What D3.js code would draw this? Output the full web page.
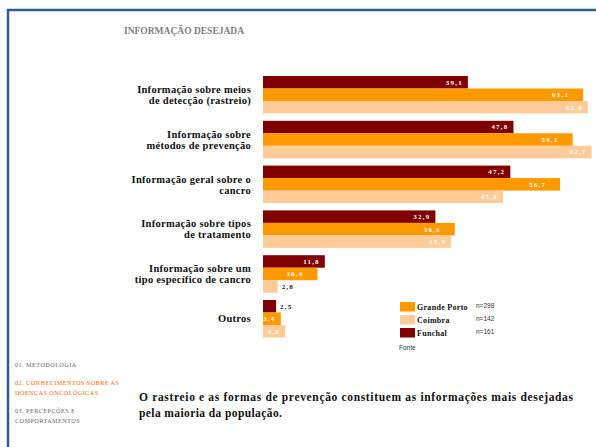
<!DOCTYPE html>
<html>
<head>
<meta charset="utf-8">
<script src="https://cdn.jsdelivr.net/npm/d3@7"></script>
<style>
  body { margin: 0; background: #fff; }
  svg { display: block; }
</style>
</head>
<body>
<div id="chart"></div>
<script>
// chart data
const categories = [
    ['Informação sobre meios', 'de detecção (rastreio)'],
    ['Informação sobre', 'métodos de prevenção'],
    ['Informação geral sobre o', 'cancro'],
    ['Informação sobre tipos', 'de tratamento'],
    ['Informação sobre um', 'tipo específico de cancro'],
    ['Outros']
];
const seriesNames = ['Funchal', 'Grande Porto', 'Coimbra'];
const funchal = [39.1, 47.8, 47.2, 32.9, 11.8, 2.5];
const grandePorto = [61.1, 59.1, 56.7, 36.6, 10.4, 3.4];
const coimbra = [62.0, 62.7, 45.8, 35.9, 2.8, 4.2];
const legendOrder = ['Grande Porto', 'Coimbra', 'Funchal'];
const nCounts = ['n=298', 'n=142', 'n=161'];
const navItems = [
    ['01. METODOLOGIA'],
    ['02. CONHECIMENTOS SOBRE AS', 'DOENÇAS ONCOLÓGICAS'],
    ['03. PERCEPÇÕES E', 'COMPORTAMENTOS']
];

const width = 596, height = 447;
const serif = '"Liberation Serif", "Times New Roman", serif';
const sans = '"Liberation Sans", Arial, sans-serif';

const colors = { 'Funchal': '#800000', 'Grande Porto': '#ff9900', 'Coimbra': '#ffcc99' };
const labelOffset = { 'Funchal': -5, 'Grande Porto': -14, 'Coimbra': -5 };
const values = { 'Funchal': funchal, 'Grande Porto': grandePorto, 'Coimbra': coimbra };

const svg = d3.select('#chart').append('svg')
    .attr('width', width)
    .attr('height', height);

// frame lines
svg.append('line')
    .attr('x1', 7).attr('x2', width).attr('y1', 10).attr('y2', 10)
    .attr('stroke', '#2d5d8f').attr('stroke-width', 2.5);
svg.append('line')
    .attr('x1', 8).attr('x2', 8).attr('y1', 9).attr('y2', height)
    .attr('stroke', '#2d5d8f').attr('stroke-width', 2.5);

// title
svg.append('text')
    .attr('x', 124).attr('y', 34)
    .attr('font-family', serif).attr('font-weight', 'bold')
    .attr('font-size', 9.5).attr('fill', '#808080')
    .text('INFORMAÇÃO DESEJADA');

// scales
const x = d3.scaleLinear().domain([0, 60]).range([263, 263 + 60 * 5.24]);
const y = d3.scaleBand()
    .domain(d3.range(categories.length))
    .range([76, 337.5])
    .paddingInner(0.163)
    .paddingOuter(0);
const ySub = d3.scaleBand()
    .domain(seriesNames)
    .range([0, y.bandwidth()]);

const groups = svg.selectAll('.group')
    .data(categories)
    .join('g')
    .attr('class', 'group')
    .attr('transform', (d, i) => `translate(0,${y(i)})`);

// bars
groups.each(function(cat, i) {
    const g = d3.select(this);
    seriesNames.forEach(s => {
        const v = values[s][i];
        g.append('rect')
            .attr('x', x(0))
            .attr('y', ySub(s))
            .attr('width', x(v) - x(0))
            .attr('height', ySub.bandwidth())
            .attr('fill', colors[s]);

        const label = d3.format('.1f')(v).replace('.', ',');
        const t = g.append('text')
            .attr('y', ySub(s) + ySub.bandwidth() / 2)
            .attr('dy', '0.35em')
            .attr('font-family', serif)
            .attr('font-weight', 'bold')
            .attr('font-size', 7)
            .attr('letter-spacing', 1.2)
            .text(label);
        if (v < 3) {
            // small bars: label outside
            t.attr('x', x(v) + 4).attr('fill', '#222');
        } else {
            let endX = x(v) + labelOffset[s];
            if (endX - 15 < x(0)) {
                t.attr('x', x(0)).attr('fill', '#fff');
            } else {
                t.attr('x', endX).attr('text-anchor', 'end').attr('fill', '#fff');
            }
        }
    });

    // category label
    const lineH = 11;
    const cy = y.bandwidth() / 2 - (cat.length - 1) * lineH / 2;
    const lbl = g.append('text')
        .attr('text-anchor', 'end')
        .attr('font-family', serif)
        .attr('font-weight', 'bold')
        .attr('font-size', 10.5)
        .attr('letter-spacing', 0.28)
        .attr('fill', '#111');
    cat.forEach((line, j) => {
        lbl.append('tspan')
            .attr('x', 251)
            .attr('y', cy + j * lineH)
            .attr('dy', '0.35em')
            .text(line);
    });
});

// legend
const legend = svg.append('g');
legendOrder.forEach((s, i) => {
    const ly = 302 + i * 13;
    legend.append('rect')
        .attr('x', 400).attr('y', ly)
        .attr('width', 15).attr('height', 9.5)
        .attr('fill', colors[s]);
    legend.append('text')
        .attr('x', 417).attr('y', ly + 5).attr('dy', '0.35em')
        .attr('font-family', serif).attr('font-weight', 'bold')
        .attr('font-size', 8).attr('letter-spacing', 0.3)
        .attr('fill', '#111')
        .text(s);
    legend.append('text')
        .attr('x', 476).attr('y', ly + 4).attr('dy', '0.35em')
        .attr('font-family', sans).attr('font-size', 6.5)
        .attr('fill', '#333')
        .text(nCounts[i]);
});
legend.append('text')
    .attr('x', 399).attr('y', 348).attr('dy', '0.35em')
    .attr('font-family', sans).attr('font-size', 6.5)
    .attr('fill', '#333')
    .text('Fonte');

// side navigation
const navY = [365, 383, 411];
navItems.forEach((item, i) => {
    const t = svg.append('text')
        .attr('font-family', serif)
        .attr('font-size', 6.2)
        .attr('letter-spacing', 0.45)
        .attr('fill', i === 1 ? '#ff6600' : '#666');
    item.forEach((line, j) => {
        t.append('tspan')
            .attr('x', 15)
            .attr('y', navY[i] + j * 9.5)
            .attr('dy', '0.35em')
            .text(line);
    });
});

// conclusion text
const concl = svg.append('text')
    .attr('font-family', serif)
    .attr('font-weight', 'bold')
    .attr('font-size', 11.5)
    .attr('fill', '#111');
concl.append('tspan')
    .attr('x', 139).attr('y', 397).attr('dy', '0.35em')
    .attr('textLength', 434).attr('lengthAdjust', 'spacing')
    .text('O rastreio e as formas de prevenção constituem as informações mais desejadas');
concl.append('tspan')
    .attr('x', 139).attr('y', 413).attr('dy', '0.35em')
    .attr('letter-spacing', 0.4)
    .text('pela maioria da população.');
</script>
</body>
</html>
